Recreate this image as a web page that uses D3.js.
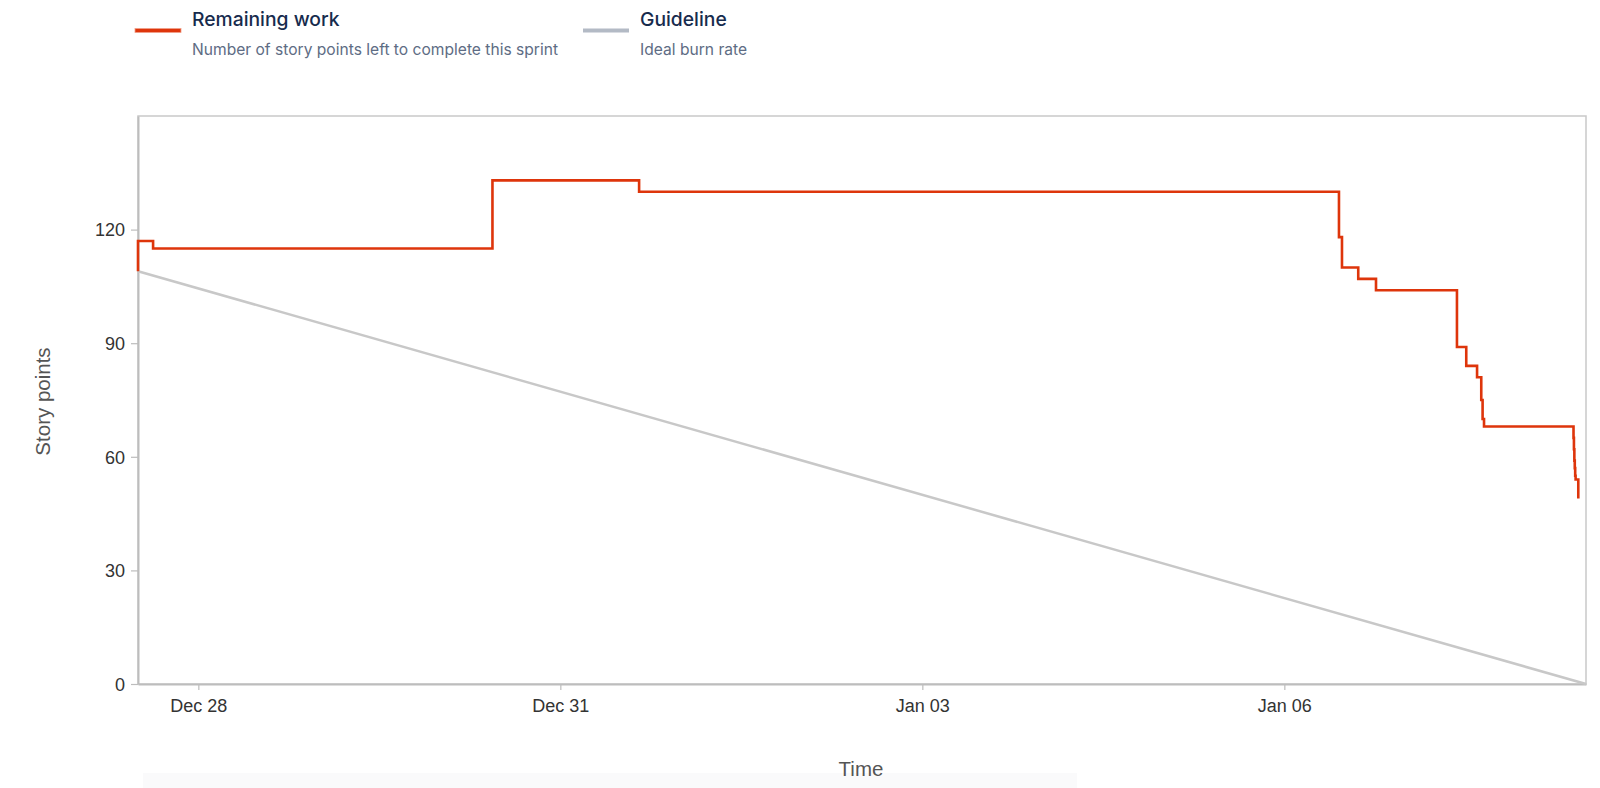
<!DOCTYPE html>
<html>
<head>
<meta charset="utf-8">
<script src="https://cdn.jsdelivr.net/npm/d3@7/dist/d3.min.js"></script>
<style>
  html, body { margin: 0; padding: 0; background: #fff; }
  svg { display: block; }
</style>
</head>
<body>
<svg id="chart" width="1600" height="788"></svg>
<script>
// ---- data ----
const sprintStart = "2024-12-27T12:00";
const sprintEnd = "2025-01-08T12:00";
const guidelineStart = 109;
const guidelineEnd = 0;

const remainingTimes = [
  "2024-12-27T12:00", "2024-12-27T12:00", "2024-12-27T15:00", "2024-12-30T10:30",
  "2024-12-31T15:40", "2025-01-06T10:52", "2025-01-06T11:28", "2025-01-06T14:42",
  "2025-01-06T18:14", "2025-01-07T10:20", "2025-01-07T12:11", "2025-01-07T14:20",
  "2025-01-07T15:10", "2025-01-07T15:26", "2025-01-07T15:43", "2025-01-08T09:31",
  "2025-01-08T09:36", "2025-01-08T09:41", "2025-01-08T09:46", "2025-01-08T09:51",
  "2025-01-08T09:56", "2025-01-08T10:28"
];
const remainingValues = [
  109, 117, 115, 133,
  130, 118, 110, 107,
  104, 89, 84, 81,
  75, 70, 68, 65,
  62, 59, 57, 55,
  54, 49
];

const yTicks = [0, 30, 60, 90, 120];
const xTickDates = ["2024-12-28", "2024-12-31", "2025-01-03", "2025-01-06"];

const legendItems = [
  { title: "Remaining work", subtitle: "Number of story points left to complete this sprint" },
  { title: "Guideline", subtitle: "Ideal burn rate" }
];

// ---- drawing ----
const parse = d3.isoParse;
const svg = d3.select("#chart");
const margin = { left: 138, top: 116, right: 14, bottom: 104 };
const W = 1600, H = 788;
const innerW = W - margin.left - margin.right;
const innerH = H - margin.top - margin.bottom;

const x = d3.scaleTime()
  .domain([parse(sprintStart), parse(sprintEnd)])
  .range([margin.left, margin.left + innerW]);
const y = d3.scaleLinear()
  .domain([0, 150])
  .range([margin.top + innerH, margin.top]);

const fontAxis = "'Liberation Sans', Arial, Helvetica, sans-serif";
const fontLegend = "Inter, 'Noto Sans', sans-serif";

// faint band at bottom
svg.append("rect")
  .attr("x", 143).attr("y", 773).attr("width", 934).attr("height", 15)
  .attr("fill", "#fafafb");

// plot frame
svg.append("rect")
  .attr("x", margin.left).attr("y", margin.top)
  .attr("width", innerW).attr("height", innerH)
  .attr("fill", "none").attr("stroke", "#c9c9c9").attr("stroke-width", 1.5);

// axes
const yAxis = d3.axisLeft(y).tickValues(yTicks).tickSize(7).tickSizeOuter(0).tickPadding(6);
const gy = svg.append("g").attr("transform", `translate(${margin.left},0)`).call(yAxis);
const xAxis = d3.axisBottom(x)
  .tickValues(xTickDates.map(d => parse(d)))
  .tickFormat(d3.timeFormat("%b %d"))
  .tickSize(6).tickSizeOuter(0).tickPadding(9);
const gx = svg.append("g").attr("transform", `translate(0,${margin.top + innerH})`).call(xAxis);

[gx, gy].forEach(g => {
  g.select(".domain").attr("stroke", "#bdbdbd").attr("stroke-width", 2);
  g.selectAll(".tick line").attr("stroke", "#bdbdbd").attr("stroke-width", 1.2);
  g.selectAll(".tick text")
    .attr("fill", "#333")
    .style("font-family", fontAxis)
    .style("font-size", "18px");
});
gy.selectAll(".tick text").attr("dy", "0.35em");

// axis titles
svg.append("text")
  .attr("transform", `translate(50, 401.5) rotate(-90)`)
  .attr("text-anchor", "middle")
  .attr("fill", "#555")
  .style("font-family", fontAxis)
  .style("font-size", "20.5px")
  .text("Story points");
svg.append("text")
  .attr("x", 861).attr("y", 776)
  .attr("text-anchor", "middle")
  .attr("fill", "#555")
  .style("font-family", fontAxis)
  .style("font-size", "20.5px")
  .text("Time");

// guideline
const guideData = [
  { t: parse(sprintStart), v: guidelineStart },
  { t: parse(sprintEnd), v: guidelineEnd }
];
svg.append("path")
  .datum(guideData)
  .attr("fill", "none")
  .attr("stroke", "#c8c8c8")
  .attr("stroke-width", 2.5)
  .attr("d", d3.line().x(d => x(d.t)).y(d => y(d.v)));

// remaining work
const remData = remainingTimes.map((t, i) => ({ t: parse(t), v: remainingValues[i] }));
svg.append("path")
  .datum(remData)
  .attr("fill", "none")
  .attr("stroke", "#de350b")
  .attr("stroke-width", 2.6)
  .attr("d", d3.line().curve(d3.curveStepAfter).x(d => x(d.t)).y(d => y(d.v)));

// legend
const legendX = [135, 583];
legendItems.forEach((item, i) => {
  const g = svg.append("g").attr("transform", `translate(${legendX[i]},0)`);
  if (i === 0) {
    g.append("rect").attr("x", 0).attr("y", 28.5).attr("width", 46).attr("height", 4)
      .attr("fill", "#de350b").attr("stroke", "#f0a08a").attr("stroke-width", 0.8);
  } else {
    g.append("rect").attr("x", 0).attr("y", 28.5).attr("width", 46).attr("height", 4)
      .attr("fill", "#b3bac5");
  }
  g.append("text")
    .attr("x", 57).attr("y", 26)
    .attr("fill", "#172b4d")
    .style("font-family", fontLegend)
    .style("font-weight", 500)
    .style("font-size", "19.3px")
    .text(item.title);
  g.append("text")
    .attr("x", 57).attr("y", 54.5)
    .attr("fill", "#5e6c84")
    .style("font-family", fontLegend)
    .style("font-size", "15.6px")
    .text(item.subtitle);
});
</script>
</body>
</html>
